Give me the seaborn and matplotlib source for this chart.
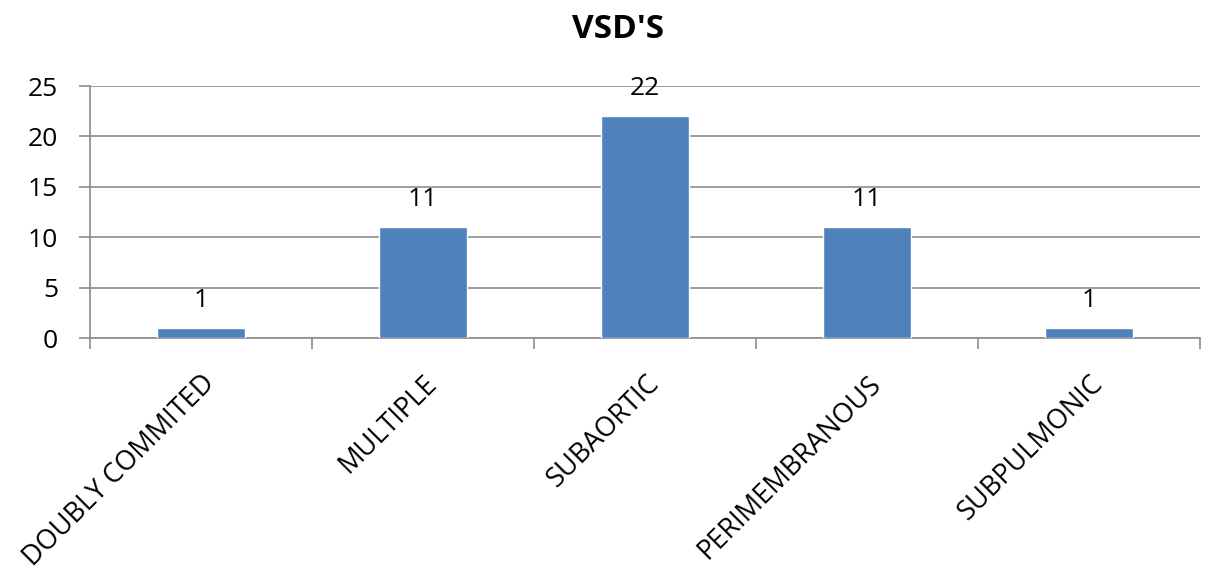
import numpy as np
import pandas as pd
import seaborn as sns
from matplotlib import pyplot as plt

categories = ["DOUBLY COMMITED", "MULTIPLE", "SUBAORTIC", "PERIMEMBRANOUS", "SUBPULMONIC"]
counts = [1, 11, 22, 11, 1]
title = "VSD'S"

sns.set_style("white")
plt.rcParams['font.family'] = ['Open Sans', 'DejaVu Sans']
plt.rcParams['text.color'] = 'black'
plt.rcParams['xtick.color'] = 'black'
plt.rcParams['ytick.color'] = 'black'

data = pd.DataFrame({"type": categories, "count": counts})

fig = plt.figure(figsize=(12.09, 5.77), dpi=100)
ax = fig.add_axes([90 / 1209, 1 - 338 / 577, 1110 / 1209, 252 / 577])

sns.barplot(data=data, x="type", y="count", color="#4F81BD", width=0.4,
            saturation=1, ax=ax, zorder=3)

ax.set_xlim(-0.5, len(categories) - 0.5)
ax.set_ylim(0, 25)
ax.set_yticks(np.arange(0, 26, 5))
ax.grid(True, axis="y", color="#8C8C8C", linewidth=1.2, zorder=0)
ax.set_axisbelow(True)

for i, v in enumerate(counts):
    ax.text(i, v + 1.5, str(v), ha="center", va="bottom", fontsize=19)

# category labels at centres, tick marks at category boundaries
ax.set_xticks(range(len(categories)))
ax.set_xticklabels(categories, rotation=45, ha="right", rotation_mode="anchor", fontsize=19.5)
ax.tick_params(axis="x", which="major", bottom=False, length=0, pad=23)
ax.set_xticks(np.arange(-0.5, len(categories), 1), minor=True)
ax.tick_params(axis="x", which="minor", bottom=True, length=8, width=1.2, color="#8C8C8C", direction="out")
ax.tick_params(axis="y", left=True, length=8, width=1.2, color="#8C8C8C", labelcolor="black",
               direction="out", labelsize=19, pad=15)

for side in ["top", "right"]:
    ax.spines[side].set_visible(False)
for side in ["left", "bottom"]:
    ax.spines[side].set_color("#8C8C8C")
    ax.spines[side].set_linewidth(1.2)

ax.set_xlabel("")
ax.set_ylabel("")
fig.text(618 / 1209, 1 - 30 / 577, title, fontsize=24, fontweight="bold", ha="center", va="center")

fig.savefig("out.png", dpi=100)
